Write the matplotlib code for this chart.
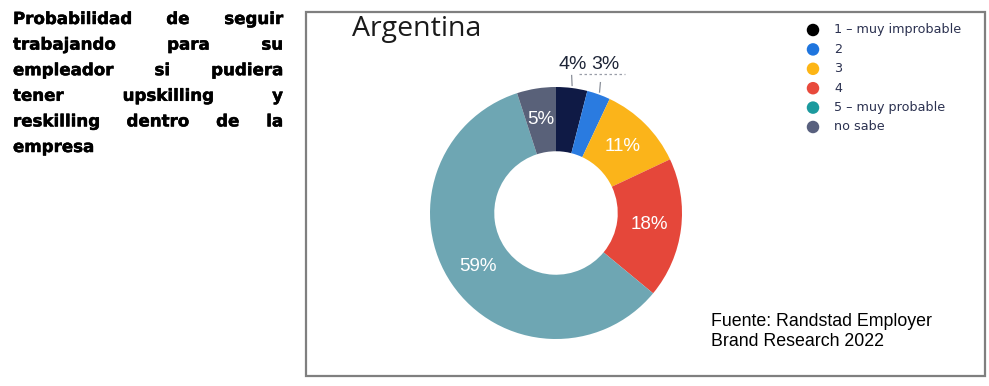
import matplotlib
matplotlib.use("Agg")
import matplotlib.pyplot as plt
from matplotlib.patches import Rectangle, Ellipse
import matplotlib.patheffects as pe
import numpy as np

W, H = 989, 386

# ---- data ----
categories = ["1 – muy improbable", "2", "3", "4", "5 – muy probable", "no sabe"]
values = [4, 3, 11, 18, 59, 5]
slice_colors = ["#0f1a45", "#2a7be0", "#fbb41a", "#e5473a", "#6ea6b3", "#596179"]
legend_colors = ["#000000", "#1f75de", "#fdb515", "#e84a3c", "#1c9a9e", "#58607e"]
title = "Argentina"
source_lines = ["Fuente: Randstad Employer", "Brand Research 2022"]
side_lines = [["Probabilidad", "de", "seguir"],
              ["trabajando", "para", "su"],
              ["empleador", "si", "pudiera"],
              ["tener", "upskilling", "y"],
              ["reskilling", "dentro", "de", "la"],
              ["empresa"]]

fig = plt.figure(figsize=(W / 100, H / 100), dpi=100)
fig.patch.set_facecolor("white")

def fx(px):
    return px / W

def fy(py):
    return 1 - py / H

# ---- bordered box ----
fig.patches.append(Rectangle((fx(306), fy(376)), fx(985) - fx(306), fy(12) - fy(376),
                             transform=fig.transFigure, fill=False,
                             edgecolor="#7f7f7f", linewidth=1.6))

# ---- justified side text ----
renderer = fig.canvas.get_renderer()
left_px, right_px = 13, 283
fs_side = 12
y0 = 19
dy = 25.6
heavy = [pe.withStroke(linewidth=0.35, foreground="black")]
for i, words in enumerate(side_lines):
    ypx = y0 + i * dy
    widths = []
    for w in words:
        t = fig.text(0, 0, w, fontsize=fs_side, fontweight="bold", family="DejaVu Sans")
        widths.append(t.get_window_extent(renderer).width)
        t.remove()
    last = (i == len(side_lines) - 1)
    if last or len(words) == 1:
        gap = 5
    else:
        gap = (right_px - left_px - sum(widths)) / (len(words) - 1)
    x = left_px
    for w, wd in zip(words, widths):
        fig.text(fx(x), fy(ypx), w, fontsize=fs_side, fontweight="bold",
                 family="DejaVu Sans", va="center", ha="left", color="black",
                 path_effects=heavy)
        x += wd + gap

# ---- donut ----
cx, cy, R = 556, 213, 126
ax = fig.add_axes([fx(cx - R), fy(cy + R), 2 * R / W, 2 * R / H])
wedges, _ = ax.pie(values, colors=slice_colors, startangle=90, counterclock=False,
                   radius=1, wedgeprops=dict(width=0.51, linewidth=0))
ax.set_xlim(-1, 1)
ax.set_ylim(-1, 1)
ax.set_aspect("equal")
ax.axis("off")

total = sum(values)
cum = 0
for i, v in enumerate(values):
    mid = 90 - (cum + v / 2) / total * 360
    cum += v
    lbl = f"{v}%"
    if v >= 5:
        r = 0.75
        ax.text(r * np.cos(np.radians(mid)), r * np.sin(np.radians(mid)), lbl,
                ha="center", va="center", color="white", fontsize=13.5,
                family="Liberation Sans")
    else:
        a = np.radians(mid)
        x1, y1 = 1.02 * np.cos(a), 1.02 * np.sin(a)
        x2, y2 = 1.07 * np.cos(a) - 0.01, 1.10 * np.sin(a)
        ax.plot([x1, x2], [y1, y2], color="#8a8f99", lw=0.9, clip_on=False)
ax.text(0.13, 1.18, "4%", ha="center", va="center", fontsize=14,
        color="#1d2436", family="Liberation Sans", clip_on=False)
ax.text(0.39, 1.18, "3%", ha="center", va="center", fontsize=14,
        color="#1d2436", family="Liberation Sans", clip_on=False)
ax.plot([0.18, 0.55], [1.10, 1.10], color="#9a9ea8", lw=0.9, ls=(0, (2, 2)),
        clip_on=False)

# ---- title ----
fig.text(fx(352), fy(29), title, fontsize=20.5, family="Open Sans",
         color="#1a1a1a", va="center", ha="left")

# ---- legend ----
for i, (c, lab) in enumerate(zip(legend_colors, categories)):
    ypx = 30 + i * 19.4
    fig.patches.append(Ellipse((fx(813), fy(ypx)), 12.5 / W, 12.5 / H,
                               transform=fig.transFigure,
                               facecolor=c, edgecolor="none"))
    fig.text(fx(834), fy(ypx), lab, fontsize=9.2, family="DejaVu Sans",
             color="#2b3150", va="center", ha="left")

# ---- source ----
for i, s in enumerate(source_lines):
    fig.text(fx(711), fy(322 + i * 20), s, fontsize=12.8, family="Liberation Sans",
             color="black", va="center", ha="left")

fig.savefig("out.png", dpi=100, facecolor="white")
